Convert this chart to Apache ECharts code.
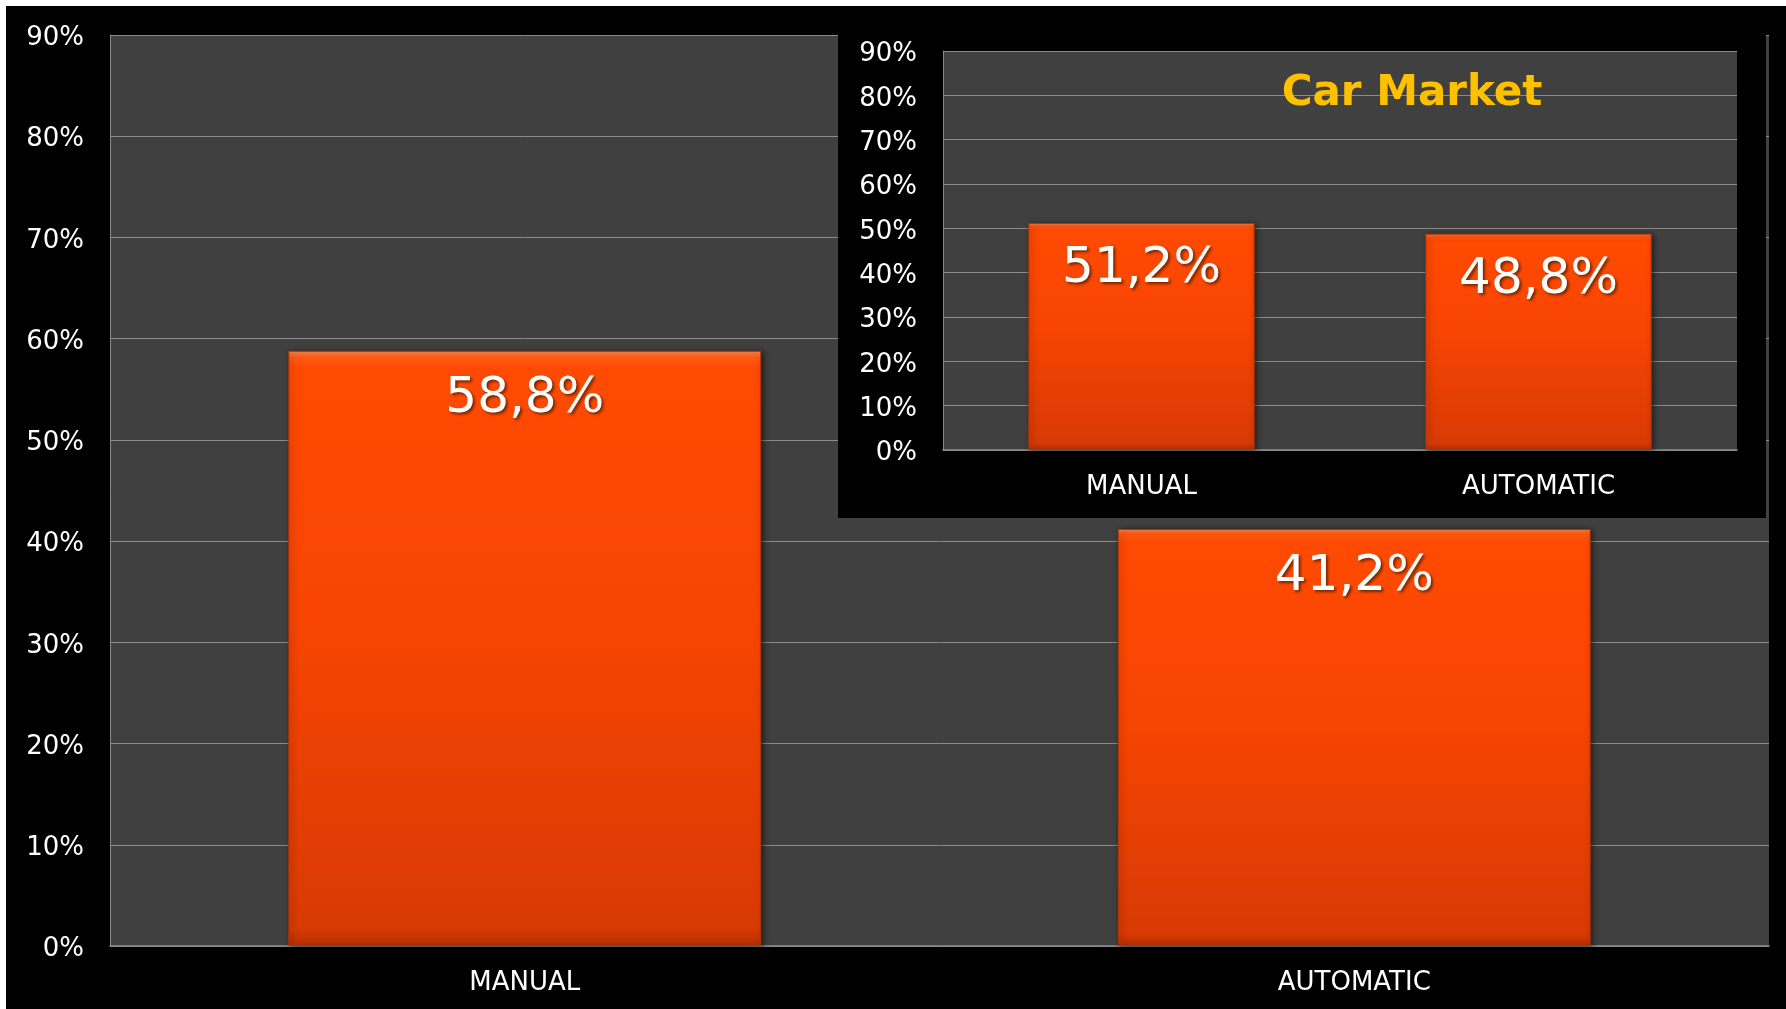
<!DOCTYPE html>
<html>
<head>
<meta charset="utf-8">
<script src="https://cdn.jsdelivr.net/npm/echarts@6/dist/echarts.min.js"></script>
<style>
  html, body { margin: 0; padding: 0; background: #ffffff; }
  #chart { position: absolute; left: 6px; top: 6px; width: 1780px; height: 1003px; background: #000000; }
</style>
</head>
<body>
<div id="chart"></div>
<script>
// ---- data ----
const categories = ['MANUAL', 'AUTOMATIC'];
const mainValues = [58.8, 41.2];
const insetValues = [51.2, 48.8];
const insetTitle = 'Car Market';
const yMin = 0, yMax = 90, yStep = 10;

const FONT = 'Verdana, "DejaVu Sans", sans-serif';

function barStyle() {
  return {
    color: {
      type: 'linear', x: 0, y: 0, x2: 0, y2: 1,
      colorStops: [
        { offset: 0, color: '#ff8a4a' },
        { offset: 0.012, color: '#ff5a14' },
        { offset: 0.03, color: '#ff4a03' },
        { offset: 0.45, color: '#f84502' },
        { offset: 0.97, color: '#d83a05' },
        { offset: 1, color: '#b83000' }
      ]
    },
    borderColor: '#b83200',
    borderWidth: 1,
    shadowColor: 'rgba(0,0,0,0.55)',
    shadowBlur: 6,
    shadowOffsetX: 2,
    shadowOffsetY: 1
  };
}

function valueLabel(dist) {
  return {
    show: true,
    position: 'insideTop',
    distance: dist,
    color: '#ffffff',
    fontFamily: FONT,
    fontSize: 50,
    textShadowColor: 'rgba(90,30,0,0.85)',
    textShadowBlur: 3,
    textShadowOffsetX: 2,
    textShadowOffsetY: 2,
    formatter: p => p.value.toFixed(1).replace('.', ',') + '%'
  };
}

function yAxis(gridIndex, zlevel) {
  return {
    type: 'value', gridIndex: gridIndex, zlevel: zlevel,
    min: yMin, max: yMax, interval: yStep,
    axisLine: { show: true, lineStyle: { color: '#8a8a8a', width: 1 } },
    axisTick: { show: false },
    splitLine: { show: true, lineStyle: { color: '#8a8a8a', width: 1 } },
    axisLabel: { color: '#ffffff', fontFamily: FONT, fontSize: 26, margin: 26,
      verticalAlign: 'top', lineHeight: 7, formatter: '{value}%' }
  };
}

function xAxis(gridIndex, zlevel) {
  return {
    type: 'category', gridIndex: gridIndex, zlevel: zlevel,
    data: categories,
    axisLine: { show: true, lineStyle: { color: '#8a8a8a', width: 1.5 } },
    axisTick: { show: false },
    axisLabel: { color: '#ffffff', fontFamily: FONT, fontSize: 26, margin: 24 }
  };
}

const chart = echarts.init(document.getElementById('chart'), null, { renderer: 'canvas' });
chart.setOption({
  backgroundColor: '#000000',
  animation: false,
  grid: [
    { left: 104, top: 29, width: 1659, height: 911, show: true, backgroundColor: '#404040', borderWidth: 0, zlevel: 0 },
    { left: 937, top: 45, width: 794, height: 399, show: true, backgroundColor: '#404040', borderWidth: 0, zlevel: 1 }
  ],
  xAxis: [xAxis(0, 0), xAxis(1, 1)],
  yAxis: [yAxis(0, 0), yAxis(1, 1)],
  graphic: [
    { type: 'rect', zlevel: 1, z: -10, silent: true,
      shape: { x: 832, y: 0, width: 928, height: 512 },
      style: { fill: '#000000' } },
    { type: 'text', zlevel: 1, z: 100, silent: true,
      x: 1406, y: 88,
      style: {
        text: insetTitle, fill: '#ffc000',
        font: 'bold 42px ' + FONT,
        textAlign: 'center', textVerticalAlign: 'middle',
        shadowColor: 'rgba(0,0,0,0.6)', shadowBlur: 3, shadowOffsetX: 2, shadowOffsetY: 2
      } }
  ],
  series: [
    { type: 'bar', xAxisIndex: 0, yAxisIndex: 0, zlevel: 0, data: mainValues,
      barWidth: '57%', itemStyle: barStyle(), label: valueLabel(23) },
    { type: 'bar', xAxisIndex: 1, yAxisIndex: 1, zlevel: 1, data: insetValues,
      barWidth: '57%', itemStyle: barStyle(), label: valueLabel(21) }
  ]
});
</script>
</body>
</html>
